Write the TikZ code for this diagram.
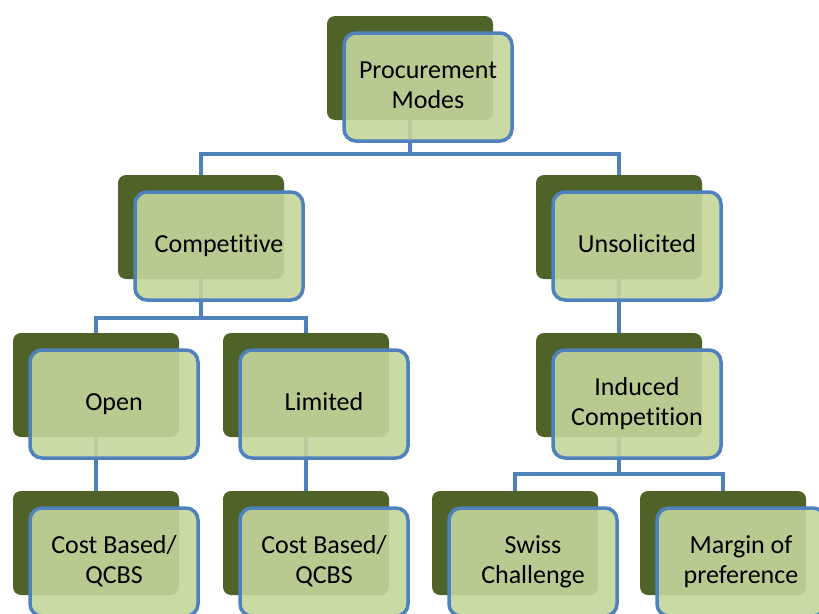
\documentclass[tikz,border=0pt]{standalone}
\usepackage{fontspec}
\setmainfont{Carlito}[Ligatures={NoCommon,NoContextual}]
\pgfdeclarelayer{background}
\pgfsetlayers{background,main}
\definecolor{darkgreen}{RGB}{79,98,40}
\definecolor{lightgreen}{RGB}{196,214,156}
\definecolor{boxblue}{RGB}{79,129,189}
\tikzset{
  backbox/.style={rectangle, draw=none, fill=darkgreen, rounded corners=8pt,
    minimum width=166pt, minimum height=104pt, inner sep=0pt, outer sep=0pt},
  frontbox/.style={rectangle, draw=boxblue, line width=3.5pt, fill=lightgreen,
    fill opacity=0.9, text opacity=1, rounded corners=12pt,
    minimum width=168pt, minimum height=108pt, inner sep=0pt, outer sep=0pt,
    align=center, font=\fontsize{26}{30}\selectfont, text=black},
  conn/.style={draw=boxblue, line width=3.5pt}
}
\newcommand{\orgbox}[4]{%
  \node[backbox] (#1b) at (#2+83,#3+52) {};
  \node[frontbox] (#1) at (#2+101,#3+71) {\strut #4\strut};
}
\begin{document}
\begin{tikzpicture}[x=1pt,y=-1pt]
\useasboundingbox (0,0) rectangle (819,613);
\clip (0,0) rectangle (819,613);
\orgbox{top}{327}{16}{Procurement\\Modes}
\orgbox{comp}{118}{175}{Competitive}
\orgbox{unsol}{536}{175}{Unsolicited}
\orgbox{open}{13}{333}{Open}
\orgbox{lim}{223}{333}{Limited}
\orgbox{ind}{536}{333}{Induced\\Competition}
\orgbox{costa}{13}{491}{Cost Based/\\QCBS}
\orgbox{costb}{223}{491}{Cost Based/\\QCBS}
\orgbox{swiss}{432}{491}{Swiss\\Challenge}
\orgbox{marg}{640}{491}{Margin of\\preference}
\begin{pgfonlayer}{background}
\fill[white] (0,0) rectangle (819,613);
\draw[conn] (topb.south) -- ++(0,34) -| (compb.north);
\draw[conn] (topb.south) -- ++(0,34) -| (unsolb.north);
\draw[conn] (compb.south) -- ++(0,39) -| (openb.north);
\draw[conn] (compb.south) -- ++(0,39) -| (limb.north);
\draw[conn] (unsolb.south) -- (indb.north);
\draw[conn] (openb.south) -- (costab.north);
\draw[conn] (limb.south) -- (costbb.north);
\draw[conn] (indb.south) -- ++(0,37) -| (swissb.north);
\draw[conn] (indb.south) -- ++(0,37) -| (margb.north);
\end{pgfonlayer}
\end{tikzpicture}
\end{document}
